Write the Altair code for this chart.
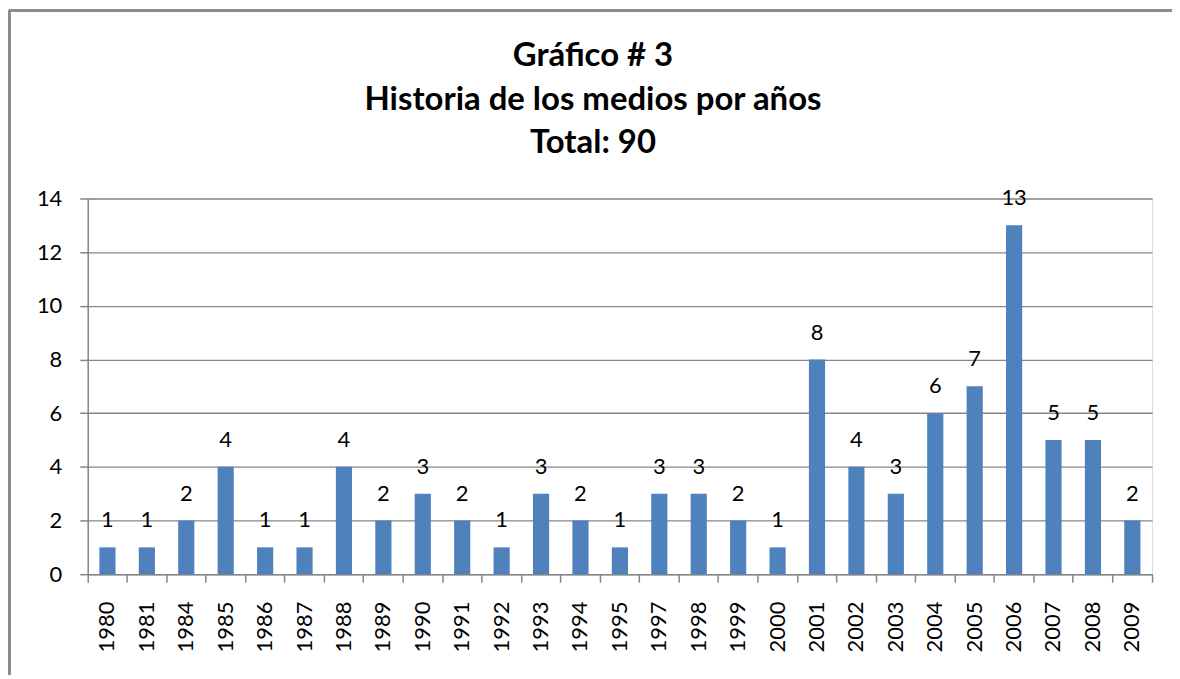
import altair as alt
import pandas as pd

years = ["1980", "1981", "1984", "1985", "1986", "1987", "1988", "1989", "1990",
         "1991", "1992", "1993", "1994", "1995", "1997", "1998", "1999", "2000",
         "2001", "2002", "2003", "2004", "2005", "2006", "2007", "2008", "2009"]
counts = [1, 1, 2, 4, 1, 1, 4, 2, 3, 2, 1, 3, 2, 1, 3, 3, 2, 1, 8, 4, 3, 6, 7, 13, 5, 5, 2]
y_ticks = [0, 2, 4, 6, 8, 10, 12, 14]
title_lines = ["Gráfico # 3", "Historia de los medios por años", "Total: 90"]

df = pd.DataFrame({"year": years, "count": counts})

W, H = 1068, 377
FONT = "Lato"
GRAY = "#868686"

xenc = alt.X("year:N", sort=years, title=None,
             scale=alt.Scale(paddingInner=0, paddingOuter=0),
             axis=alt.Axis(labelAngle=-90, labelFont=FONT, labelFontSize=22,
                           labelColor="black", domainColor=GRAY, domainWidth=1.5,
                           tickColor=GRAY, tickWidth=1.5, tickSize=8,
                           labelPadding=19, bandPosition=1, tickExtra=True,
                           grid=False))
yenc = alt.Y("count:Q", title=None,
             scale=alt.Scale(domain=[0, 14], nice=False),
             axis=alt.Axis(values=y_ticks, labelFont=FONT, labelFontSize=22,
                           labelColor="black", domainColor=GRAY, domainWidth=1.5,
                           tickColor=GRAY, tickWidth=1.5, tickSize=8,
                           labelPadding=18, gridColor=GRAY, gridWidth=1.3))

bars = alt.Chart(df).mark_bar(color="#4F81BD", width=alt.RelativeBandSize(0.41)).encode(
    x=xenc, y=yenc)
labels = alt.Chart(df).mark_text(font=FONT, fontSize=22, color="black",
                                 baseline="alphabetic", dy=-20).encode(
    x=alt.X("year:N", sort=years), y="count:Q", text="count:Q")

border_left = alt.Chart(df).mark_rule(color="#8c8c8c", strokeWidth=2.5).encode(
    x=alt.value(-79), y=alt.value(-189), y2=alt.value(500))
border_top = alt.Chart(df).mark_rule(color="#8c8c8c", strokeWidth=2.5).encode(
    x=alt.value(-79), x2=alt.value(1110), y=alt.value(-189))

chart = alt.layer(bars, labels, border_left, border_top).properties(
    width=W, height=H,
    autosize=alt.AutoSizeParams(type="none"),
    padding={"left": 80, "top": 190, "right": 20, "bottom": 100},
    title=alt.TitleParams(title_lines, font=FONT, fontSize=33, fontWeight="bold",
                          color="black", lineHeight=44, anchor="middle",
                          frame="group", offset=-152, dx=-27),
).configure_view(strokeWidth=0).configure(background="white")

chart.save("out.html", embed_options={"renderer": "svg", "actions": False})
